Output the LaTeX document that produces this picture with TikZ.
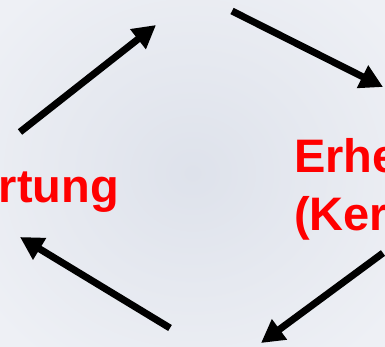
\documentclass[tikz,border=0pt]{standalone}
\usepackage{fontspec}
\setmainfont{Liberation Sans}
\usetikzlibrary{arrows.meta}
\definecolor{bgin}{RGB}{222,226,235}
\definecolor{bgout}{RGB}{238,240,245}
\definecolor{labred}{RGB}{255,0,0}
\tikzset{
  cyclearrow/.style={line width=7pt,-{Triangle[length=23pt,width=24pt]}},
  lbl/.style={text=labred,font=\bfseries\fontsize{47}{56}\selectfont,inner sep=0pt}
}
\begin{document}
\begin{tikzpicture}[x=1pt,y=-1pt]
\useasboundingbox (0,0) rectangle (385,346);
\clip (0,0) rectangle (385,346);
\shade[inner color=bgin,outer color=bgout] (-60,-60) rectangle (445,406);
\node[lbl,anchor=base east] (left) at (119,202) {rtung};
\node[lbl,anchor=base west] (right1) at (294,172) {Erhe};
\node[lbl,anchor=base west] (right2) at (294,230) {(Ker};
\coordinate (a1s) at (20,132);
\coordinate (a1e) at (156,25);
\coordinate (a2s) at (232,11);
\coordinate (a2e) at (383,87);
\coordinate (a3s) at (383,253);
\coordinate (a3e) at (261,343);
\coordinate (a4s) at (170,328);
\coordinate (a4e) at (20,237);
\draw[cyclearrow] (a1s) -- (a1e);
\draw[cyclearrow] (a2s) -- (a2e);
\draw[cyclearrow] (a3s) -- (a3e);
\draw[cyclearrow] (a4s) -- (a4e);
\end{tikzpicture}
\end{document}
